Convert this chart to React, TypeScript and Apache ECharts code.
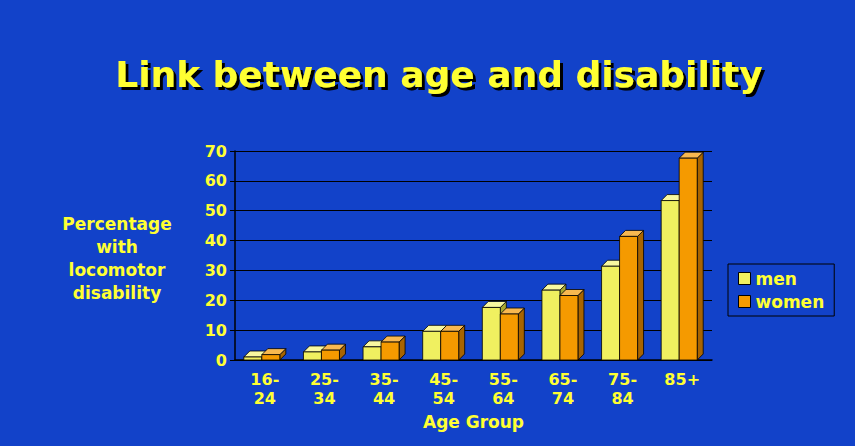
import React, { useEffect, useRef } from "react";
import * as echarts from "echarts";

const categories = ["16-\n24", "25-\n34", "35-\n44", "45-\n54", "55-\n64", "65-\n74", "75-\n84", "85+"];
const men = [1, 2.7, 4.4, 9.6, 17.6, 23.4, 31.4, 53.4];
const women = [1.8, 3.3, 6, 9.6, 15.4, 21.6, 41.4, 67.6];
const yTicks = [0, 10, 20, 30, 40, 50, 60, 70];

const YEL = "#FFFF33";

function makeRender(offset: number, front: string, top: string, side: string) {
  return (params: any, api: any) => {
    const xi = api.value(0);
    const v = api.value(1);
    const pt = api.coord([xi, v]);
    const base = api.coord([xi, 0]);
    const w = 18, d = 6;
    const cx = pt[0] + offset;
    const x0 = cx - w / 2, x1 = cx + w / 2;
    const yt = pt[1], yb = base[1];
    const st = { stroke: "#000", lineWidth: 0.8 };
    return {
      type: "group",
      children: [
        { type: "polygon", shape: { points: [[x1, yb], [x1 + d, yb - d], [x1 + d, yt - d], [x1, yt]] }, style: { fill: side, ...st } },
        { type: "polygon", shape: { points: [[x0, yt], [x0 + d, yt - d], [x1 + d, yt - d], [x1, yt]] }, style: { fill: top, ...st } },
        { type: "rect", shape: { x: x0, y: yt, width: w, height: yb - yt }, style: { fill: front, ...st } },
      ],
    };
  };
}

export default function App() {
  const ref = useRef<HTMLDivElement>(null);
  useEffect(() => {
    document.body.style.margin = "0";
    const chart = echarts.init(ref.current!, null, { renderer: "svg" });
    const font = "DejaVu Sans";
    chart.setOption({
      animation: false,
      backgroundColor: "#1242C9",
      title: {
        text: "Link between age and disability",
        left: 434, textAlign: "center", top: 51,
        textStyle: { color: YEL, fontSize: 36, fontWeight: "bold", fontFamily: font, textShadowColor: "#000", textShadowOffsetX: 3, textShadowOffsetY: 3, textShadowBlur: 1 },
      },
      legend: {
        left: 728, top: 264, orient: "vertical", itemGap: 6,
        backgroundColor: "#1242C9", borderColor: "#000", borderWidth: 1, padding: [6, 10],
        icon: "rect", itemWidth: 12, itemHeight: 12,
        textStyle: { color: YEL, fontSize: 17, fontWeight: "bold", fontFamily: font },
        data: [{ name: "men", itemStyle: { color: "#F0F060", borderColor: "#000", borderWidth: 1 } }, { name: "women", itemStyle: { color: "#F59A00", borderColor: "#000", borderWidth: 1 } }],
      },
      grid: { left: 235, right: 143, top: 151, bottom: 86 },
      xAxis: {
        type: "category", data: categories,
        axisLine: { lineStyle: { color: "#000", width: 1.5 } }, axisTick: { show: false },
        axisLabel: { color: YEL, fontSize: 16, fontWeight: "bold", fontFamily: font, lineHeight: 19, margin: 10 },
        name: "Age Group", nameLocation: "middle", nameGap: 53,
        nameTextStyle: { color: YEL, fontSize: 17, fontWeight: "bold", fontFamily: font },
      },
      yAxis: {
        type: "value", min: 0, max: 70, interval: 10,
        axisLine: { show: true, lineStyle: { color: "#000", width: 1.5 } },
        axisTick: { show: true, lineStyle: { color: "#000" } },
        splitLine: { lineStyle: { color: "#000", width: 1 } },
        axisLabel: { color: YEL, fontSize: 16, fontWeight: "bold", fontFamily: font, formatter: (v: number) => (yTicks.includes(v) ? String(v) : "") },
      },
      graphic: [{
        type: "text", x: 117, y: 212,
        style: { text: "Percentage\nwith\nlocomotor\ndisability", fill: YEL, fontSize: 17, fontWeight: "bold", fontFamily: font, textAlign: "center", lineHeight: 23 },
      }],
      series: [
        { name: "men", type: "custom", itemStyle: { color: "#F0F060" }, renderItem: makeRender(-12, "#F0F060", "#F8F8A0", "#A8A830"), data: men.map((v, i) => [i, v]) },
        { name: "women", type: "custom", itemStyle: { color: "#F59A00" }, renderItem: makeRender(6, "#F59A00", "#F8B850", "#A86400"), data: women.map((v, i) => [i, v]) },
      ],
    });
    return () => chart.dispose();
  }, []);
  return <div ref={ref} style={{ width: 855, height: 446 }} />;
}
